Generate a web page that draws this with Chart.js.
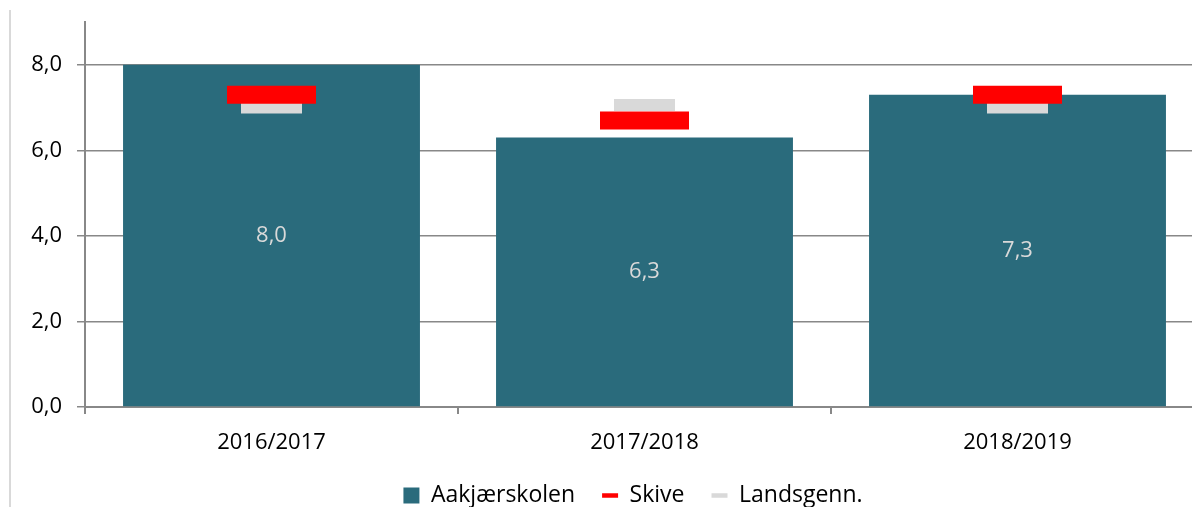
<!DOCTYPE html>
<html><head><meta charset="utf-8">
<script src="https://cdn.jsdelivr.net/npm/chart.js@4/dist/chart.umd.min.js"></script>
<style>
html,body{margin:0;padding:0;background:#fff;overflow:hidden;width:1192px;height:507px;}
#frame{position:absolute;left:9px;top:10px;width:2px;height:497px;background:#d9d9d9;}
#wrap{position:absolute;left:0;top:0;width:1266px;height:507px;}
</style></head><body>
<div id="frame"></div>
<div id="wrap"><canvas id="c" width="1266" height="507"></canvas></div>
<script>
const categories = ['2016/2017', '2017/2018', '2018/2019'];
const seriesNames = ['Aakjærskolen', 'Skive', 'Landsgenn.'];
const aakjaerValues = [8.0, 6.3, 7.3];
const skiveValues = [7.3, 6.7, 7.3];
const landsgennValues = [7.0, 7.06, 7.0];
const yTickValues = [0, 2, 4, 6, 8];
const yMax = 9;

const TEAL = '#2a6b7c', RED = '#ff0000', LGRAY = '#d9d9d9', AXIS = '#888888';
const FONT = "'Open Sans', sans-serif";
const fmt = v => v.toFixed(1).replace('.', ',');

const legendFit = {
  id: 'legendFit',
  beforeInit(chart) {
    const orig = chart.legend.fit;
    chart.legend.fit = function () { orig.call(this); this.height = 50; };
  }
};
const barLabels = {
  id: 'barLabels',
  afterDatasetsDraw(chart) {
    const meta = chart.getDatasetMeta(0);
    const ctx = chart.ctx;
    ctx.save();
    ctx.font = '22px ' + FONT;
    ctx.fillStyle = LGRAY;
    ctx.textAlign = 'center';
    ctx.textBaseline = 'middle';
    meta.data.forEach((el, i) => {
      ctx.fillText(fmt(aakjaerValues[i]), el.x, (el.y + el.base) / 2);
    });
    ctx.restore();
  }
};

new Chart(document.getElementById('c'), {
  data: {
    labels: categories,
    datasets: [
      { type: 'bar', label: seriesNames[0], data: aakjaerValues, backgroundColor: TEAL,
        categoryPercentage: 1.0, barPercentage: 0.796, order: 3 },
      { type: 'line', label: seriesNames[1], data: skiveValues, showLine: false,
        pointStyle: 'line', pointRadius: 44.5, pointHoverRadius: 44.5,
        pointBorderWidth: 18, pointHoverBorderWidth: 18, borderColor: RED, backgroundColor: RED, order: 1 },
      { type: 'line', label: seriesNames[2], data: landsgennValues, showLine: false,
        pointStyle: 'line', pointRadius: 30.5, pointHoverRadius: 30.5,
        pointBorderWidth: 12, pointHoverBorderWidth: 12, borderColor: LGRAY, backgroundColor: LGRAY, order: 2 }
    ]
  },
  options: {
    responsive: false,
    animation: false,
    devicePixelRatio: 1,
    layout: { autoPadding: false, padding: { top: 22, left: 0, right: 0, bottom: 0 } },
    font: { family: FONT },
    plugins: {
      tooltip: { enabled: false },
      legend: {
        position: 'bottom',
        labels: {
          usePointStyle: true, pointStyleWidth: 16, boxWidth: 16, boxHeight: 16,
          padding: 27, color: '#000', font: { family: FONT, size: 23 },
          generateLabels: () => [
            { text: seriesNames[0], fillStyle: TEAL, strokeStyle: TEAL, lineWidth: 0, pointStyle: 'rect', hidden: false, datasetIndex: 0 },
            { text: seriesNames[1], fillStyle: RED, strokeStyle: RED, lineWidth: 4.5, pointStyle: 'line', hidden: false, datasetIndex: 1 },
            { text: seriesNames[2], fillStyle: LGRAY, strokeStyle: LGRAY, lineWidth: 4.5, pointStyle: 'line', hidden: false, datasetIndex: 2 }
          ]
        }
      }
    },
    scales: {
      x: {
        offset: true,
        grid: { display: true, drawOnChartArea: false, offset: true, color: AXIS, lineWidth: 2, tickLength: 7 },
        border: { display: true, color: AXIS, width: 2 },
        ticks: { color: '#000', font: { family: FONT, size: 22 }, padding: 16 },
        afterFit(s) { s.height = 50; }
      },
      y: {
        min: 0, max: yMax,
        grid: { color: AXIS, lineWidth: 1.5, tickLength: 8 },
        border: { display: true, color: AXIS, width: 2 },
        ticks: { stepSize: 2, color: '#000', font: { family: FONT, size: 22 }, padding: 15,
                 callback: v => fmt(v) },
        afterBuildTicks(s) { s.ticks = yTickValues.map(v => ({ value: v })); },
        afterFit(s) { s.width = 85; s.paddingTop = 0; s.paddingBottom = 0; }
      },
      yR: {
        position: 'right', display: true,
        grid: { display: false }, border: { display: false }, ticks: { display: false },
        afterFit(s) { s.width = 62; s.paddingTop = 0; s.paddingBottom = 0; }
      }
    }
  },
  plugins: [legendFit, barLabels]
});
</script>
</body></html>
